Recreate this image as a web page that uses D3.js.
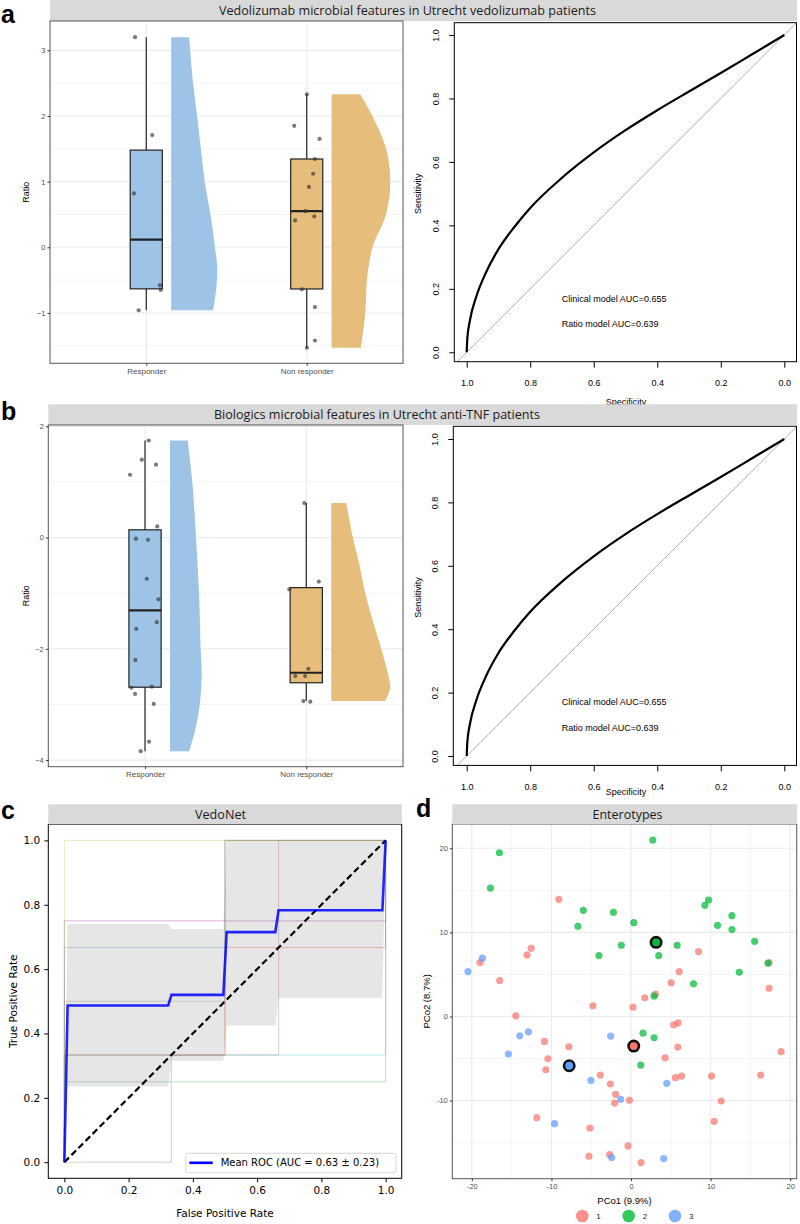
<!DOCTYPE html>
<html>
<head>
<meta charset="utf-8">
<script src="https://cdn.jsdelivr.net/npm/d3@7"></script>
<style>
  body { margin: 0; background: #fff; }
  svg { display: block; }
</style>
</head>
<body>
<svg id="fig" width="800" height="1224"></svg>
<script>
// ---------------- data ----------------
var groups = ["Responder", "Non responder"]

// a: ratio values (with the jitter offsets seen in the figure, in category units)
var aRespVals = [3.2, 1.71, 0.82, -0.58, -0.65, -0.96]
var aRespJit  = [-0.07, 0.037, -0.077, 0.085, 0.09, -0.047]
var aNonVals  = [2.33, 1.85, 1.65, 1.345, 1.12, 0.92, 0.55, 0.41, 0.47, -0.64, -0.91, -1.42, -1.53]
var aNonJit   = [0.001, -0.078, 0.08, 0.051, 0.04, 0.014, -0.009, -0.072, 0.047, -0.03, 0.051, 0.051, 0.001]
// whisker low, q1, median, q3, whisker high
var aRespBox  = [-0.96, -0.633, 0.117, 1.48, 3.2]
var aNonBox   = [-1.53, -0.635, 0.55, 1.345, 2.33]
// half-violin profile: [ratio, density]
var aRespDens = [[3.2,0.30],[2.5,0.367],[2.0,0.433],[1.5,0.495],[1.0,0.56],[0.5,0.655],[0.0,0.73],[-0.3,0.767],[-0.6,0.755],[-0.96,0.70]]
var aNonDens  = [[2.33,0.478],[2.0,0.68],[1.5,0.908],[1.0,0.978],[0.5,0.906],[0.0,0.683],[-0.5,0.589],[-1.0,0.561],[-1.53,0.489]]

// b
var bRespVals = [1.745, 1.40, 1.31, 1.13, 0.2, -0.02, -0.04, -0.74, -1.11, -1.52, -1.64, -2.2, -2.7, -2.68, -2.81, -2.99, -3.67, -3.84]
var bRespJit  = [0.023, -0.02, 0.068, -0.093, 0.076, -0.056, 0.019, 0.011, 0.083, 0.073, -0.054, -0.06, -0.085, 0.042, -0.062, 0.054, 0.025, -0.027]
var bNonVals  = [0.62, -0.79, -0.93, -2.36, -2.49, -2.49, -2.94, -2.95]
var bNonJit   = [-0.012, 0.078, -0.105, 0.013, -0.068, -0.007, -0.018, 0.025]
var bRespBox  = [-3.84, -2.69, -1.31, 0.14, 1.745]
var bNonBox   = [-2.94, -2.61, -2.43, -0.9, 0.62]
var bRespDens = [[1.745,0.295],[1.0,0.372],[0.0,0.433],[-1.0,0.483],[-2.0,0.511],[-2.5,0.528],[-3.0,0.495],[-3.5,0.411],[-3.84,0.317]]
var bNonDens  = [[0.62,0.25],[0.0,0.361],[-0.5,0.472],[-1.0,0.567],[-1.5,0.694],[-2.0,0.833],[-2.5,0.956],[-2.7,0.983],[-2.94,0.9]]

// smoothed ROC (same curve in a and b)
var rocSpec = [1.0, 0.998, 0.99, 0.97, 0.94, 0.9, 0.85, 0.8, 0.7, 0.6, 0.5, 0.4, 0.3, 0.2, 0.1, 0.0]
var rocSens = [0.0, 0.045, 0.1, 0.175, 0.25, 0.325, 0.395, 0.455, 0.55, 0.63, 0.7, 0.763, 0.822, 0.88, 0.94, 1.0]
var rocTicks = [1.0, 0.8, 0.6, 0.4, 0.2, 0.0]
var aucText = ["Clinical model AUC=0.655", "Ratio model AUC=0.639"]

// c: per-fold ROC steps [fpr, tpr]
var folds = [
  [[0,0],[0,0.667],[0.5,0.667],[0.5,1],[1,1]],
  [[0,0],[0,0.333],[0.5,0.333],[0.5,1],[1,1]],
  [[0,0],[0,0.25],[1,0.25],[1,1]],
  [[0,0],[0,0.333],[0.5,0.333],[0.5,0.667],[1,0.667],[1,1]],
  [[0,0],[0,0.75],[1,0.75],[1,1]],
  [[0,0],[0.333,0],[0.333,0.333],[0.667,0.333],[0.667,1],[1,1]],
  [[0,0],[0,0.75],[1,0.75],[1,1]],
  [[0,0],[0,0.5],[0.5,0.5],[0.5,1],[1,1]],
  [[0,0],[0,1],[1,1]],
  [[0,0],[0,0.333],[1,0.333],[1,1]]
]
var meanFpr  = [0, 0.0101, 0.3232, 0.3333, 0.4949, 0.5051, 0.6566, 0.6667, 0.9899, 1.0]
var meanTpr  = [0, 0.487, 0.487, 0.52, 0.52, 0.715, 0.715, 0.783, 0.783, 1.0]
var tprUpper = [0, 0.74, 0.74, 0.725, 0.725, 1.0, 1.0, 1.0, 1.0, 1.0]
var tprLower = [0, 0.235, 0.235, 0.315, 0.315, 0.425, 0.425, 0.51, 0.51, 1.0]
var meanLabel = "Mean ROC (AUC = 0.63 \u00b1 0.23)"

// d: PCoA points per enterotype [PCo1, PCo2]
var ent1 = [[-9.07,13.93],[-12.55,8.11],[-13.06,7.32],[-18.98,6.41],[-16.5,4.27],[8.48,7.72],[6.05,5.34],[5.04,4.0],
  [17.34,6.41],[17.34,3.36],[3.06,2.65],[1.72,2.22],[-4.79,1.27],[0.25,1.11],[-14.48,0.08],[5.92,-0.75],[5.37,-0.99],
  [-10.87,-2.97],[-7.81,-3.6],[5.88,-3.64],[-10.45,-5.03],[4.28,-4.91],[18.85,-4.16],[-10.71,-6.33],[-3.86,-6.96],
  [-2.6,-8.03],[5.58,-7.28],[6.34,-7.08],[10.12,-7.08],[16.29,-6.96],[-1.93,-9.26],[-2.06,-10.29],[-0.21,-9.97],
  [11.33,-10.05],[10.45,-12.47],[-11.84,-12.03],[-5.16,-13.26],[-5.29,-16.62],[-2.69,-16.42],[-0.38,-15.39],[1.26,-17.37]]
var ent2 = [[2.73,20.97],[-16.54,19.47],[-17.67,15.27],[9.74,13.85],[9.28,13.22],[-6.0,12.62],[-2.22,12.39],[12.68,11.99],
  [-6.67,10.72],[0.34,11.16],[10.87,10.84],[12.68,10.33],[15.53,8.94],[-1.22,8.47],[5.79,8.47],[-4.03,7.24],[3.48,7.24],
  [17.21,6.33],[13.6,5.26],[7.85,3.88],[2.9,2.41],[1.51,-1.98],[2.9,-2.53],[1.22,-5.78]]
var ent3 = [[-18.68,6.93],[-20.49,5.34],[-12.89,-1.82],[-13.98,-2.3],[-15.41,-4.47],[-2.56,-2.33],[-5.04,-7.6],[4.49,-7.95],
  [-1.3,-9.85],[-9.61,-12.74],[-2.43,-16.78],[4.11,-16.9]]
var centroids = [[0.34,-3.52],[3.15,8.82],[-7.77,-5.86]]
var entNames = ["1", "2", "3"]
var entColors = ["#F8766D", "#00BA38", "#619CFF"]

// ---------------- drawing ----------------
var svg = d3.select("#fig")
var SANS = "'Liberation Sans', Arial, sans-serif"
var STRIP = "'Open Sans', 'Noto Sans', sans-serif"
var MPL = "'DejaVu Sans', sans-serif"
var fills = ["#9dc3e6", "#e6bd7b"]

function strip(x0, x1, y0, y1, label, cx, tw) {
	svg.append("rect")
		.attr("x", x0).attr("y", y0)
		.attr("width", x1 - x0).attr("height", y1 - y0)
		.attr("fill", "#d9d9d9")
	svg.append("text")
		.attr("x", cx).attr("y", (y0 + y1) / 2 + 4.6)
		.attr("text-anchor", "middle")
		.attr("font-family", STRIP).attr("font-size", 13.5)
		.attr("fill", "#1a1a1a")
		.attr("textLength", tw).attr("lengthAdjust", "spacingAndGlyphs")
		.text(label)
}

function panelLetter(x, y, s) {
	svg.append("text").attr("x", x).attr("y", y)
		.attr("font-family", SANS).attr("font-weight", "bold").attr("font-size", 25)
		.text(s)
}

function styleGgAxis(g) {
	g.select(".domain").remove()
	g.selectAll(".tick line").attr("stroke", "#333")
	g.selectAll(".tick text").attr("fill", "#4d4d4d")
		.attr("font-family", SANS).attr("font-size", 7.5)
}

function raincloud(p) {
	var x = d3.scaleLinear().domain([0.4, 2.6]).range([p.left, p.right])
	var y = d3.scaleLinear().domain(p.yDom).range([p.bottom, p.top])
	var w = d3.scaleLinear().domain([0, 1]).range([0, 60])
	var g = svg.append("g")

	g.selectAll(".minor").data(p.minor).enter().append("line")
		.attr("x1", p.left).attr("x2", p.right)
		.attr("y1", d => y(d)).attr("y2", d => y(d))
		.attr("stroke", "#ededed").attr("stroke-width", 0.6)
	g.selectAll(".major").data(p.ticks).enter().append("line")
		.attr("x1", p.left).attr("x2", p.right)
		.attr("y1", d => y(d)).attr("y2", d => y(d))
		.attr("stroke", "#ebebeb").attr("stroke-width", 1.1)
	g.selectAll(".vmajor").data([1, 2]).enter().append("line")
		.attr("x1", d => x(d)).attr("x2", d => x(d))
		.attr("y1", p.top).attr("y2", p.bottom)
		.attr("stroke", "#ebebeb").attr("stroke-width", 1.1)

	p.groups.forEach(function(grp, i) {
		var cx = i + 1
		var base = x(cx + 0.155)
		var area = d3.area()
			.y(d => y(d[0]))
			.x0(base)
			.x1(d => base + w(d[1]))
			.curve(d3.curveCatmullRom.alpha(0.5))
		g.append("path").datum(grp.dens)
			.attr("d", area)
			.attr("fill", fills[i])

		var b = grp.box
		g.append("line")
			.attr("x1", x(cx)).attr("x2", x(cx))
			.attr("y1", y(b[4])).attr("y2", y(b[0]))
			.attr("stroke", "#222").attr("stroke-width", 1.2)
		g.append("rect")
			.attr("x", x(cx - 0.1)).attr("width", x(cx + 0.1) - x(cx - 0.1))
			.attr("y", y(b[3])).attr("height", y(b[1]) - y(b[3]))
			.attr("fill", fills[i]).attr("stroke", "#222").attr("stroke-width", 1.2)
		g.append("line")
			.attr("x1", x(cx - 0.1)).attr("x2", x(cx + 0.1))
			.attr("y1", y(b[2])).attr("y2", y(b[2]))
			.attr("stroke", "#222").attr("stroke-width", 2.2)

		g.selectAll(".pt" + i).data(grp.vals).enter().append("circle")
			.attr("cx", (d, j) => x(cx + grp.jit[j]))
			.attr("cy", d => y(d))
			.attr("r", 2.1)
			.attr("fill", "#333").attr("fill-opacity", 0.65)
	})

	g.append("rect")
		.attr("x", p.left).attr("y", p.top)
		.attr("width", p.right - p.left).attr("height", p.bottom - p.top)
		.attr("fill", "none").attr("stroke", "#555").attr("stroke-width", 1)

	var ya = g.append("g").attr("transform", `translate(${p.left},0)`)
		.call(d3.axisLeft(y).tickValues(p.ticks).tickSize(2.5).tickPadding(2).tickFormat(d3.format("d")))
	styleGgAxis(ya)
	var xa = g.append("g").attr("transform", `translate(0,${p.bottom})`)
		.call(d3.axisBottom(x).tickValues([1, 2]).tickSize(2.5).tickPadding(2.5).tickFormat(d => groups[d - 1]))
	styleGgAxis(xa)
	xa.selectAll(".tick text").attr("font-size", 8)

	g.append("text")
		.attr("transform", `translate(26,${(p.top + p.bottom) / 2}) rotate(-90)`)
		.attr("text-anchor", "middle").attr("dy", "0.35em")
		.attr("font-family", SANS).attr("font-size", 9)
		.text("Ratio")
}

function rocPanel(p) {
	var x = d3.scaleLinear().domain([1, 0]).range([466.7, 784.3])
	var y = d3.scaleLinear().domain([0, 1]).range([p.y0, p.y1])
	var g = svg.append("g")
	var clipId = "clip" + Math.round(p.top)
	g.append("clipPath").attr("id", clipId).append("rect")
		.attr("x", p.left).attr("y", p.top)
		.attr("width", p.right - p.left).attr("height", p.bottom - p.top)

	g.append("line")
		.attr("clip-path", `url(#${clipId})`)
		.attr("x1", x(1.1)).attr("y1", y(-0.1))
		.attr("x2", x(-0.1)).attr("y2", y(1.1))
		.attr("stroke", "#a6a6a6").attr("stroke-width", 0.9)

	var line = d3.line()
		.x((d, i) => x(rocSpec[i]))
		.y(d => y(d))
		.curve(d3.curveMonotoneX)
	g.append("path").datum(rocSens)
		.attr("d", line)
		.attr("fill", "none").attr("stroke", "#000").attr("stroke-width", 2.2)

	g.append("rect")
		.attr("x", p.left).attr("y", p.top)
		.attr("width", p.right - p.left).attr("height", p.bottom - p.top)
		.attr("fill", "none").attr("stroke", "#000").attr("stroke-width", 1)

	var xa = g.append("g").attr("transform", `translate(0,${p.bottom})`)
		.call(d3.axisBottom(x).tickValues(rocTicks).tickSize(6).tickPadding(12).tickFormat(d3.format(".1f")))
	xa.select(".domain").remove()
	xa.selectAll(".tick text").attr("font-family", SANS).attr("font-size", 9).attr("fill", "#000")

	var ya = g.append("g").attr("transform", `translate(${p.left},0)`)
		.call(d3.axisLeft(y).tickValues(rocTicks).tickSize(5).tickFormat(d3.format(".1f")))
	ya.select(".domain").remove()
	ya.selectAll(".tick text")
		.attr("x", 0).attr("dy", "0.35em")
		.attr("text-anchor", "middle")
		.attr("transform", "translate(-18,0) rotate(-90)")
		.attr("font-family", SANS).attr("font-size", 9).attr("fill", "#000")

	g.append("text")
		.attr("transform", `translate(418,${(p.y0 + p.y1) / 2}) rotate(-90)`)
		.attr("text-anchor", "middle").attr("dy", "0.35em")
		.attr("font-family", SANS).attr("font-size", 9)
		.text("Sensitivity")
	g.append("text")
		.attr("x", 626).attr("y", p.specY)
		.attr("text-anchor", "middle").attr("dy", "0.35em")
		.attr("font-family", SANS).attr("font-size", 9)
		.text("Specificity")

	g.selectAll(".auc").data(aucText).enter().append("text")
		.attr("x", 561.7)
		.attr("y", (d, i) => y(0.17 - i * 0.08))
		.attr("dy", "0.35em")
		.attr("font-family", SANS).attr("font-size", 9)
		.text(d => d)
}

// ---- panel a ----
strip(50, 797, 0, 21, "Vedolizumab microbial features in Utrecht vedolizumab patients", 407.5, 377)
raincloud({
	left: 50, right: 403, top: 21, bottom: 363.3,
	yDom: [-1.767, 3.447], ticks: [-1, 0, 1, 2, 3], minor: [-1.5, -0.5, 0.5, 1.5, 2.5],
	groups: [
		{vals: aRespVals, jit: aRespJit, box: aRespBox, dens: aRespDens},
		{vals: aNonVals, jit: aNonJit, box: aNonBox, dens: aNonDens}
	]
})
rocPanel({left: 454.3, right: 796.5, top: 22.7, bottom: 361.7, y0: 352.3, y1: 35, specY: 401.5})
panelLetter(1, 22.6, "a")

// ---- panel b ----
strip(48.3, 797, 404.3, 425, "Biologics microbial features in Utrecht anti-TNF patients", 377, 326)
raincloud({
	left: 48.3, right: 403, top: 425, bottom: 766.7,
	yDom: [-4.119, 2.024], ticks: [-4, -2, 0, 2], minor: [-3, -1, 1],
	groups: [
		{vals: bRespVals, jit: bRespJit, box: bRespBox, dens: bRespDens},
		{vals: bNonVals, jit: bNonJit, box: bNonBox, dens: bNonDens}
	]
})
rocPanel({left: 453.3, right: 796.5, top: 426.3, bottom: 765.4, y0: 756, y1: 439, specY: 792})
panelLetter(1, 420, "b")

// ---- panel c ----
;(function() {
	var left = 48.3, right = 401.7, top = 824.3, bottom = 1178.3
	var x = d3.scaleLinear().domain([-0.05, 1.05]).range([left, right])
	var y = d3.scaleLinear().domain([-0.05, 1.05]).range([bottom, top])
	var g = svg.append("g")
	var tab10 = d3.schemeCategory10

	var line = d3.line().x(d => x(d[0])).y(d => y(d[1]))
	g.selectAll(".fold").data(folds).enter().append("path")
		.attr("d", line)
		.attr("fill", "none")
		.attr("stroke", (d, i) => tab10[i])
		.attr("stroke-opacity", 0.3).attr("stroke-width", 1)

	var band = d3.area()
		.x(d => x(d))
		.y0((d, i) => y(tprLower[i]))
		.y1((d, i) => y(tprUpper[i]))
	g.append("path").datum(meanFpr)
		.attr("d", band)
		.attr("fill", "grey").attr("fill-opacity", 0.2)

	g.append("line")
		.attr("x1", x(0)).attr("y1", y(0)).attr("x2", x(1)).attr("y2", y(1))
		.attr("stroke", "#000").attr("stroke-width", 2.2)
		.attr("stroke-dasharray", "6.5,3.5")

	var mean = d3.line().x(d => x(d)).y((d, i) => y(meanTpr[i]))
	g.append("path").datum(meanFpr)
		.attr("d", mean)
		.attr("fill", "none").attr("stroke", "#0000ff")
		.attr("stroke-width", 2.6).attr("stroke-opacity", 0.85)

	g.append("rect")
		.attr("x", left).attr("y", top)
		.attr("width", right - left).attr("height", bottom - top)
		.attr("fill", "none").attr("stroke", "#000").attr("stroke-width", 1)

	var ticks = [0, 0.2, 0.4, 0.6, 0.8, 1.0]
	var xa = g.append("g").attr("transform", `translate(0,${bottom})`)
		.call(d3.axisBottom(x).tickValues(ticks).tickSize(4).tickPadding(4).tickFormat(d3.format(".1f")))
	var ya = g.append("g").attr("transform", `translate(${left},0)`)
		.call(d3.axisLeft(y).tickValues(ticks).tickSize(4).tickPadding(4).tickFormat(d3.format(".1f")))
	;[xa, ya].forEach(function(a) {
		a.select(".domain").remove()
		a.selectAll(".tick text").attr("font-family", MPL).attr("font-size", 10.5).attr("fill", "#000")
	})

	g.append("text")
		.attr("x", (left + right) / 2).attr("y", 1217)
		.attr("text-anchor", "middle")
		.attr("font-family", MPL).attr("font-size", 10.5)
		.text("False Positive Rate")
	g.append("text")
		.attr("transform", `translate(13,${(top + bottom) / 2}) rotate(-90)`)
		.attr("text-anchor", "middle").attr("dy", "0.35em")
		.attr("font-family", MPL).attr("font-size", 10.5)
		.text("True Positive Rate")

	var lg = g.append("g")
	lg.append("rect")
		.attr("x", 185.7).attr("y", 1153.3).attr("width", 210.3).attr("height", 19.4)
		.attr("rx", 2).attr("fill", "#fff").attr("fill-opacity", 0.8)
		.attr("stroke", "#cccccc").attr("stroke-width", 0.8)
	lg.append("line")
		.attr("x1", 189.3).attr("x2", 212.7).attr("y1", 1162.8).attr("y2", 1162.8)
		.attr("stroke", "#0000ff").attr("stroke-width", 2.6)
	lg.append("text")
		.attr("x", 220.7).attr("y", 1162.8).attr("dy", "0.35em")
		.attr("font-family", MPL).attr("font-size", 10)
		.text(meanLabel)
})()
strip(48.3, 401.7, 804.3, 824.3, "VedoNet", 220.5, 51)
panelLetter(1, 818.5, "c")

// ---- panel d ----
;(function() {
	var left = 452.3, right = 796.7, top = 824, bottom = 1178.7
	var all = ent1.concat(ent2, ent3)
	var xe = d3.extent(all, d => d[0]), ye = d3.extent(all, d => d[1])
	var xp = (xe[1] - xe[0]) * 0.05, yp = (ye[1] - ye[0]) * 0.05
	var x = d3.scaleLinear().domain([xe[0] - xp, xe[1] + xp]).range([left, right])
	var y = d3.scaleLinear().domain([ye[0] - yp, ye[1] + yp]).range([bottom, top])
	var g = svg.append("g")

	var xMaj = [-20, -10, 0, 10, 20], xMin = [-15, -5, 5, 15]
	var yMaj = [-10, 0, 10, 20], yMin = [-15, -5, 5, 15]
	g.selectAll(".xmin").data(xMin).enter().append("line")
		.attr("x1", d => x(d)).attr("x2", d => x(d)).attr("y1", top).attr("y2", bottom)
		.attr("stroke", "#ededed").attr("stroke-width", 0.6)
	g.selectAll(".ymin").data(yMin).enter().append("line")
		.attr("y1", d => y(d)).attr("y2", d => y(d)).attr("x1", left).attr("x2", right)
		.attr("stroke", "#ededed").attr("stroke-width", 0.6)
	g.selectAll(".xmaj").data(xMaj).enter().append("line")
		.attr("x1", d => x(d)).attr("x2", d => x(d)).attr("y1", top).attr("y2", bottom)
		.attr("stroke", "#ebebeb").attr("stroke-width", 1.1)
	g.selectAll(".ymaj").data(yMaj).enter().append("line")
		.attr("y1", d => y(d)).attr("y2", d => y(d)).attr("x1", left).attr("x2", right)
		.attr("stroke", "#ebebeb").attr("stroke-width", 1.1)

	;[ent1, ent2, ent3].forEach(function(pts, k) {
		g.selectAll(".e" + k).data(pts).enter().append("circle")
			.attr("cx", d => x(d[0])).attr("cy", d => y(d[1]))
			.attr("r", 3.6)
			.attr("fill", entColors[k]).attr("fill-opacity", 0.72)
	})
	g.selectAll(".cent").data(centroids).enter().append("circle")
		.attr("cx", d => x(d[0])).attr("cy", d => y(d[1]))
		.attr("r", 5.2)
		.attr("fill", (d, i) => entColors[i])
		.attr("stroke", "#111").attr("stroke-width", 2.6)

	g.append("rect")
		.attr("x", left).attr("y", top)
		.attr("width", right - left).attr("height", bottom - top)
		.attr("fill", "none").attr("stroke", "#555").attr("stroke-width", 1)

	var xa = g.append("g").attr("transform", `translate(0,${bottom})`)
		.call(d3.axisBottom(x).tickValues(xMaj).tickSize(2.5).tickPadding(2.5).tickFormat(d => String(d)))
	styleGgAxis(xa)
	var ya = g.append("g").attr("transform", `translate(${left},0)`)
		.call(d3.axisLeft(y).tickValues(yMaj).tickSize(2.5).tickPadding(2).tickFormat(d => String(d)))
	styleGgAxis(ya)

	g.append("text")
		.attr("x", (left + right) / 2).attr("y", 1201).attr("dy", "0.35em")
		.attr("text-anchor", "middle")
		.attr("font-family", SANS).attr("font-size", 9.5)
		.text("PCo1 (9.9%)")
	g.append("text")
		.attr("transform", `translate(427,${(top + bottom) / 2}) rotate(-90)`)
		.attr("text-anchor", "middle").attr("dy", "0.35em")
		.attr("font-family", SANS).attr("font-size", 9.5)
		.text("PCo2 (8.7%)")

	var key = d3.scalePoint().domain(entNames).range([582.3, 675])
	var lg = g.selectAll(".key").data(entNames).enter().append("g")
		.attr("transform", d => `translate(${key(d)},1216)`)
	lg.append("circle").attr("r", 6.3)
		.attr("fill", (d, i) => entColors[i]).attr("fill-opacity", 0.8)
	lg.append("text").attr("x", 14).attr("dy", "0.35em")
		.attr("font-family", SANS).attr("font-size", 8).attr("fill", "#222")
		.text(d => d)
})()
strip(452.3, 797, 804.3, 824, "Enterotypes", 627.5, 70)
panelLetter(416, 817, "d")
</script>
</body>
</html>
